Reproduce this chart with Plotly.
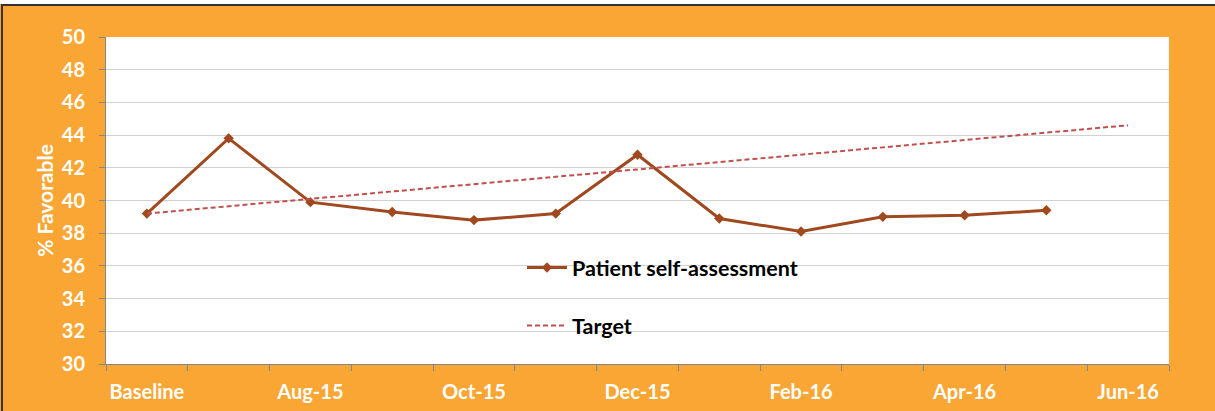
import plotly.graph_objects as go

categories = ["Baseline", "Jul-15", "Aug-15", "Sep-15", "Oct-15", "Nov-15", "Dec-15",
              "Jan-16", "Feb-16", "Mar-16", "Apr-16", "May-16", "Jun-16"]
tick_labels = ["Baseline", "", "Aug-15", "", "Oct-15", "", "Dec-15",
               "", "Feb-16", "", "Apr-16", "", "Jun-16"]
patient_values = [39.2, 43.8, 39.9, 39.3, 38.8, 39.2, 42.8, 38.9, 38.1, 39.0, 39.1, 39.4, None]
target_values = [39.2, 39.65, 40.1, 40.55, 41.0, 41.45, 41.9, 42.35, 42.8, 43.25, 43.7, 44.15, 44.6]

ORANGE = "#F9A635"
FONT = "Lato"
W, H = 1215, 411
ML, MR, MT, MB = 106, 46, 37, 47
PW, PH = W - ML - MR, H - MT - MB


def px_x(px):
    return (px - ML) / PW


def px_y(py):
    return (H - MB - py) / PH


fig = go.Figure()
fig.add_trace(go.Scatter(
    x=categories, y=patient_values, name="Patient self-assessment",
    mode="lines+markers", legendgroup="a",
    line=dict(color="#A0491F", width=3),
    marker=dict(symbol="diamond", size=8, color="#A0491F"),
))
fig.add_trace(go.Scatter(
    x=categories, y=target_values, name="Target",
    mode="lines", legendgroup="b",
    line=dict(color="#C0504D", width=2, dash="5px,3px"),
))

fig.update_layout(
    width=W, height=H,
    paper_bgcolor=ORANGE, plot_bgcolor="white",
    margin=dict(l=ML, r=MR, t=MT, b=MB, autoexpand=False),
    font=dict(family=FONT, size=19, color="white"),
    showlegend=True,
    legend=dict(
        x=px_x(522), y=px_y(247), xanchor="left", yanchor="top",
        bgcolor="rgba(0,0,0,0)",
        font=dict(family=FONT, size=21.5, color="black", weight="bold"),
        tracegroupgap=27, itemwidth=40,
    ),
    shapes=[
        dict(type="rect", xref="paper", yref="paper", layer="above",
             x0=px_x(-2), x1=px_x(W + 2), y0=px_y(4), y1=px_y(-2),
             fillcolor="white", line=dict(width=0)),
        dict(type="line", xref="paper", yref="paper", layer="above",
             x0=px_x(1), x1=px_x(W + 2), y0=px_y(5), y1=px_y(5),
             line=dict(color="#333333", width=2)),
        dict(type="line", xref="paper", yref="paper", layer="above",
             x0=px_x(2), x1=px_x(2), y0=px_y(4), y1=px_y(H + 2),
             line=dict(color="#333333", width=2)),
    ],
)
fig.update_xaxes(
    type="category", tickson="boundaries",
    tickvals=categories, ticktext=tick_labels,
    ticks="outside", ticklen=6, tickcolor="#868686",
    showline=True, linecolor="#868686", linewidth=1,
    showgrid=False, tickangle=0, automargin=False,
    tickfont=dict(family=FONT, size=20, color="white", weight="bold"),
    ticklabelstandoff=10,
    range=[-0.5, 12.5],
)
fig.update_yaxes(
    range=[30, 50], dtick=2,
    ticks="outside", ticklen=6, tickcolor="#868686",
    showline=True, linecolor="#868686", linewidth=1,
    showgrid=True, gridcolor="#D0D0D0", gridwidth=1,
    automargin=False,
    tickfont=dict(family=FONT, size=20, color="white", weight="bold"),
    ticklabelstandoff=10,
    title=dict(text="% Favorable", font=dict(family=FONT, size=21, color="white", weight="bold"), standoff=2),
)

fig.write_html("out.html", config={"displayModeBar": False},
               post_script="document.body.style.margin='0';document.body.style.overflow='hidden';")
